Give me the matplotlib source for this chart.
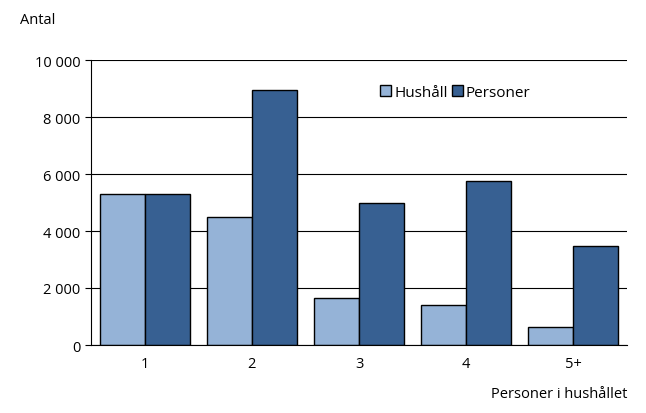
import numpy as np
import matplotlib.pyplot as plt

kategorier = ['1', '2', '3', '4', '5+']
hushall = [5300, 4490, 1650, 1400, 630]
personer = [5300, 8950, 4980, 5750, 3470]

plt.rcParams['font.family'] = ['Open Sans', 'DejaVu Sans']
fig = plt.figure(figsize=(6.46, 4.14), dpi=100)
ax = fig.add_axes([91/646, 1-346/414, (627-91)/646, (346-61)/414])

x = np.arange(len(kategorier))
w = 0.42
ax.bar(x - w/2, hushall, w, color='#95B3D7', edgecolor='black', linewidth=1, label='Hushåll')
ax.bar(x + w/2, personer, w, color='#376092', edgecolor='black', linewidth=1, label='Personer')

ax.set_xlim(-0.5, len(kategorier) - 0.5)
ax.set_ylim(0, 10000)
ax.set_yticks(range(0, 10001, 2000))
ax.set_yticklabels([f'{v:,}'.replace(',', ' ') for v in range(0, 10001, 2000)], fontsize=10.5)
ax.set_xticks(x)
ax.set_xticklabels(kategorier, fontsize=10.5)
ax.yaxis.grid(True, color='black', linewidth=0.8)
ax.set_axisbelow(True)
for s in ['top', 'right']:
    ax.spines[s].set_visible(False)
ax.tick_params(axis='x', length=0, pad=8)
ax.tick_params(axis='y', length=4)

fig.text(20/646, 1-20/414, 'Antal', fontsize=10.5, va='center')
fig.text(627/646, 1-395/414, 'Personer i hushållet', fontsize=10.5, ha='right', va='center')
ax.legend(loc='upper center', bbox_to_anchor=(0.68, 0.96), ncol=2, frameon=False,
          fontsize=11, handlelength=0.7, handleheight=0.7, handletextpad=0.2, columnspacing=0.3)

fig.savefig('out.png')
